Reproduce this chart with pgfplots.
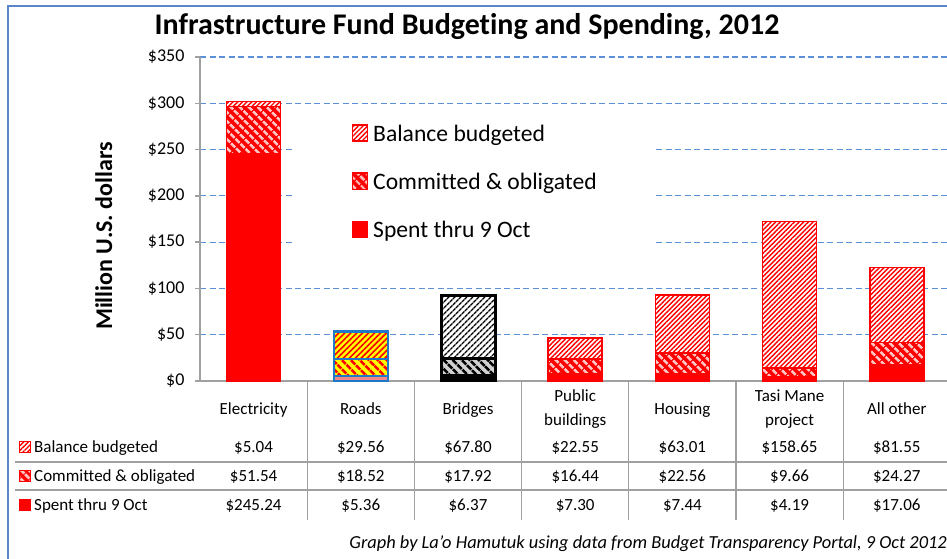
\documentclass[border=0pt]{standalone}
\usepackage{pgfplots}
\pgfplotsset{compat=1.18}
\usepackage{fontspec}
\defaultfontfeatures{}
\setmainfont{Carlito}[Ligatures={NoCommon}]
\usetikzlibrary{patterns.meta}
\definecolor{gridblue}{HTML}{5B8FD6}
\definecolor{axisgray}{HTML}{A0A0A0}
\definecolor{framebl}{HTML}{5B87C8}
\definecolor{pinkstripe}{HTML}{FFC4C4}
\definecolor{roadsyellow}{HTML}{FFFF00}
\definecolor{roadsblue}{HTML}{1F78C8}
\definecolor{roadspink}{HTML}{F08888}
\definecolor{bridgegray}{HTML}{D0D0D0}
\newcommand{\fs}[1]{\fontsize{#1}{#1}\selectfont}

\tikzset{
  balR/.style={preaction={fill=white}, pattern={Lines[angle=45,distance=3.3pt,line width=1.4pt]}, pattern color=red, draw=red, line width=1.5pt},
  comR/.style={preaction={fill=red}, pattern={Lines[angle=-45,distance=6.5pt,line width=3pt]}, pattern color=pinkstripe, draw=red, line width=1.5pt},
  spnR/.style={fill=red, draw=red, line width=1.5pt},
  balY/.style={preaction={fill=roadsyellow}, pattern={Lines[angle=45,distance=4.2pt,line width=1.6pt]}, pattern color=red, draw=roadsblue, line width=2.2pt},
  comY/.style={preaction={fill=roadsyellow}, pattern={Lines[angle=-45,distance=6.5pt,line width=3pt]}, pattern color=red, draw=roadsblue, line width=2.2pt},
  spnY/.style={fill=roadspink, draw=roadsblue, line width=2pt},
  balK/.style={preaction={fill=white}, pattern={Lines[angle=45,distance=4pt,line width=1.5pt]}, pattern color=black, draw=black, line width=3pt},
  comK/.style={preaction={fill=bridgegray}, pattern={Lines[angle=-45,distance=6.5pt,line width=3pt]}, pattern color=black, draw=black, line width=3pt},
  spnK/.style={fill=black, draw=black, line width=3pt},
}

\pgfplotsset{
  basebars/.style={
    scale only axis, width=747pt, height=324pt,
    at={(200pt,-381pt)}, anchor=south west,
    xmin=-0.5, xmax=6.468, ymin=0, ymax=350,
    enlargelimits=false,
    ybar stacked, bar width=54pt,
  },
}

\begin{document}
\begin{tikzpicture}[x=1pt,y=1pt]
% frame
\draw[framebl, line width=2pt] (8,-559) -- (8,-6) -- (947,-6);

% main axis: red categories
\begin{axis}[basebars,
  axis x line*=bottom, axis y line*=left,
  axis line style={axisgray, line width=1.3pt, -},
  xtick=\empty,
  ytick={0,50,...,350},
  tick align=outside, major tick length=5pt,
  ytick style={axisgray, line width=1.3pt},
  ymajorgrids,
  grid style={gridblue, line width=1.2pt, dash pattern=on 6pt off 3.5pt},
  yticklabel={\$\pgfmathprintnumber{\tick}},
  /pgf/number format/assume math mode=true,
  yticklabel style={font=\fs{18}, xshift=-7pt},
  reverse legend,
  legend cell align=left,
  legend style={at={(0.20348,0.79321)}, anchor=north west, draw=none, fill=none,
    inner sep=0pt, row sep=26pt, column sep=5pt, font=\fs{23.6},
    nodes={inner sep=0pt, text height=17pt, text depth=5pt}},
  legend image code/.code={\draw[#1, line width=1pt] (0pt,-6pt) rectangle (15pt,10pt);},
]
\fill[white] (axis description cs:0.1272,0.8488) rectangle (axis description cs:0.6064,0.3025);
\addplot[spnR] coordinates {(0,245.24) (3,7.30) (4,7.44) (5,4.19) (6,17.06)};
\addlegendentry{Spent thru 9 Oct}
\addplot[comR] coordinates {(0,51.54) (3,16.44) (4,22.56) (5,9.66) (6,24.27)};
\addlegendentry{Committed \& obligated}
\addplot[balR] coordinates {(0,5.04) (3,22.55) (4,63.01) (5,158.65) (6,81.55)};
\addlegendentry{Balance budgeted}
\end{axis}

% overlay: Roads
\begin{axis}[basebars, hide axis]
\addplot[spnY] coordinates {(1,5.36)};
\addplot[comY] coordinates {(1,18.52)};
\addplot[balY] coordinates {(1,29.56)};
\end{axis}

% overlay: Bridges
\begin{axis}[basebars, hide axis]
\addplot[spnK] coordinates {(2,6.37)};
\addplot[comK] coordinates {(2,17.92)};
\addplot[balK] coordinates {(2,67.80)};
\end{axis}

% title and y label
\node[anchor=base, font=\bfseries\fs{30}] at (467,-35) {Infrastructure Fund Budgeting and Spending, 2012};
\node[anchor=base, rotate=90, font=\bfseries\fs{24}] at (112,-236) {Million U.S. dollars};

% data table lines
\foreach \k in {0,...,5}
  \draw[axisgray, line width=1.3pt] ({307.2+107.2*\k},-381) -- ({307.2+107.2*\k},-520);
\draw[axisgray, line width=1.3pt] (15,-462) -- (947,-462);
\draw[axisgray, line width=1.3pt] (15,-490) -- (947,-490);

% category names
\foreach \n [count=\i from 0] in {Electricity,Roads,Bridges,{},Housing,{},All other}
  \node[anchor=base, font=\fs{17}] at ({253.6+107.2*\i},-414.3) {\n};
\node[anchor=base, font=\fs{17}] at (575.2,-401.7) {Public};
\node[anchor=base, font=\fs{17}] at (575.2,-425) {buildings};
\node[anchor=base, font=\fs{17}] at (789.6,-401.7) {Tasi Mane};
\node[anchor=base, font=\fs{17}] at (789.6,-425) {project};

% values
\foreach \v [count=\i from 0] in {5.04,29.56,67.80,22.55,63.01,158.65,81.55}
  \node[anchor=base, font=\fs{17}] at ({253.6+107.2*\i},-452.5) {\$\v};
\foreach \v [count=\i from 0] in {51.54,18.52,17.92,16.44,22.56,9.66,24.27}
  \node[anchor=base, font=\fs{17}] at ({253.6+107.2*\i},-481.5) {\$\v};
\foreach \v [count=\i from 0] in {245.24,5.36,6.37,7.30,7.44,4.19,17.06}
  \node[anchor=base, font=\fs{17}] at ({253.6+107.2*\i},-510) {\$\v};

% row labels with keys
\draw[balR, line width=0.8pt] (19.5,-452.5) rectangle (30.5,-441.5);
\node[anchor=base west, font=\fs{17}, inner sep=0pt] at (34,-452.5) {Balance budgeted};
\draw[comR, line width=0.8pt] (19.5,-481.5) rectangle (30.5,-470.5);
\node[anchor=base west, font=\fs{17}, inner sep=0pt] at (34,-481.5) {Committed \& obligated};
\draw[spnR, line width=0.8pt] (19.5,-510) rectangle (30.5,-499);
\node[anchor=base west, font=\fs{17}, inner sep=0pt] at (34,-510) {Spent thru 9 Oct};

% footer
\node[anchor=base east, font=\itshape\fs{18.4}, inner sep=0pt] at (947,-548) {Graph by La'o Hamutuk using data from Budget Transparency Portal, 9 Oct 2012};

\pgfresetboundingbox
\useasboundingbox (0,0) rectangle (947,-559);
\end{tikzpicture}
\end{document}
